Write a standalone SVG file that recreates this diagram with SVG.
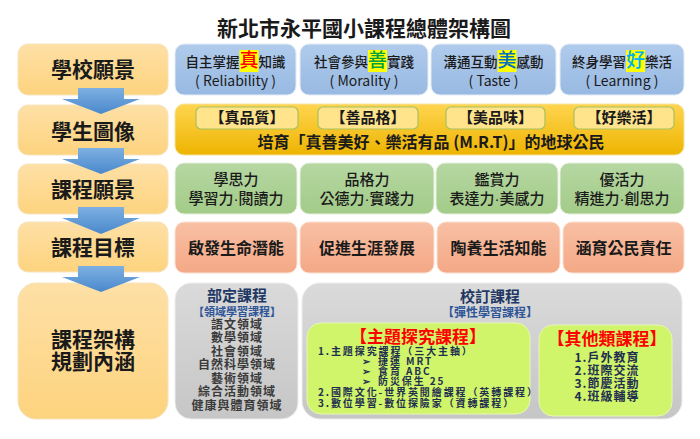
<svg xmlns="http://www.w3.org/2000/svg" width="700" height="439" viewBox="0 0 700 439">
<defs>
<linearGradient id="gLeft" x1="0" y1="0" x2="0" y2="1"><stop offset="0" stop-color="#FEE0A6"/><stop offset="1" stop-color="#FDD37E"/></linearGradient>
<linearGradient id="gBlue" x1="0" y1="0" x2="0" y2="1"><stop offset="0" stop-color="#B0CBEC"/><stop offset="1" stop-color="#98B9E2"/></linearGradient>
<linearGradient id="gGreen" x1="0" y1="0" x2="0" y2="1"><stop offset="0" stop-color="#B6D7A2"/><stop offset="1" stop-color="#A2CB88"/></linearGradient>
<linearGradient id="gSalmon" x1="0" y1="0" x2="0" y2="1"><stop offset="0" stop-color="#F8C0A4"/><stop offset="1" stop-color="#F4A886"/></linearGradient>
<linearGradient id="gGold" x1="0" y1="0" x2="0" y2="1"><stop offset="0" stop-color="#FFD550"/><stop offset="1" stop-color="#EDB400"/></linearGradient>
<linearGradient id="gGrey" x1="0" y1="0" x2="0" y2="1"><stop offset="0" stop-color="#DADADA"/><stop offset="1" stop-color="#C6C6C6"/></linearGradient>
<linearGradient id="gArrow" x1="0" y1="0" x2="0" y2="1"><stop offset="0" stop-color="#7DB0E2"/><stop offset="1" stop-color="#4A88CC"/></linearGradient>
<style>
text{font-family:"Noto Sans CJK TC","Noto Sans CJK SC",sans-serif;fill:#1a1a1a}
.left{fill:url(#gLeft);stroke:#F5E3BF;stroke-width:1}
.blue{fill:url(#gBlue);stroke:#E3ECF7;stroke-width:1}
.green{fill:url(#gGreen);stroke:#E6F0DD;stroke-width:1}
.salmon{fill:url(#gSalmon);stroke:#FBE1D3;stroke-width:1}
.gold{fill:url(#gGold);stroke:#F6E2A0;stroke-width:1}
.grey{fill:url(#gGrey);stroke:#EDEDED;stroke-width:1}
.lime{fill:#D0F46A;stroke:#E6F7B5;stroke-width:1}
.tag{fill:#FFE48C;stroke:#A8C25E;stroke-width:1.2}
.lbl{font-size:21px;font-weight:700;text-anchor:middle}
.b1{font-size:13.5px;font-weight:500}
.b2{font-size:14px;text-anchor:middle}
.hl{fill:#FFFF00}
.tg{font-size:15px;font-weight:700;text-anchor:middle}
.gr{font-size:15px;font-weight:500;text-anchor:middle}
.dot{font-family:"Liberation Sans",sans-serif}
.sa{font-size:16px;font-weight:700;text-anchor:middle}
.hd{font-size:15px;font-weight:700;fill:#1F3864;text-anchor:middle}
.sub{font-size:11px;font-weight:700;fill:#2E5597;text-anchor:middle}
.it{font-size:12px;letter-spacing:1px;font-weight:700;fill:#3A3A3A;text-anchor:middle}
.red{font-size:17px;font-weight:700;fill:#FF0000;text-anchor:middle}
.li{font-size:10px;letter-spacing:1.9px;font-weight:700;fill:#1F2F50}
.li2{font-size:12px;letter-spacing:1px;font-weight:700;fill:#1F2F50;text-anchor:middle}
.arrow{fill:url(#gArrow)}
</style>
</defs>
<rect width="700" height="439" fill="#FFFFFF"/>
<text x="364" y="36" style="font-size:21px;font-weight:700;text-anchor:middle">新北市永平國小課程總體架構圖</text>

<g id="left-vision"><rect class="left" x="18" y="44" width="150" height="51" rx="10"/><text class="lbl" x="93" y="77">學校願景</text></g>
<g id="left-student"><rect class="left" x="18" y="105" width="150" height="50" rx="10"/><text class="lbl" x="93" y="139">學生圖像</text></g>
<g id="left-course-vision"><rect class="left" x="18" y="164" width="150" height="50" rx="10"/><text class="lbl" x="93" y="197">課程願景</text></g>
<g id="left-goal"><rect class="left" x="18" y="222" width="150" height="50" rx="10"/><text class="lbl" x="93" y="255">課程目標</text></g>
<g id="left-structure"><rect class="left" x="18" y="283" width="150" height="136" rx="18"/><text class="lbl" x="93" y="347">課程架構</text><text class="lbl" x="93" y="369">規劃內涵</text></g>

<g id="v1"><rect class="blue" x="175" y="44" width="121" height="51" rx="9"/>
<rect class="hl" x="239.5" y="50" width="19" height="22"/>
<text x="185.5" y="67" class="b1">自主掌握<tspan style="font-size:19px;fill:#FF0000">真</tspan>知識</text>
<text class="b2" x="235.5" y="86">( Reliability )</text></g>
<g id="v2"><rect class="blue" x="300" y="44" width="128" height="51" rx="9"/>
<rect class="hl" x="368" y="50" width="19" height="22"/>
<text x="314" y="67" class="b1">社會參與<tspan style="font-size:19px;fill:#00A040">善</tspan>實踐</text>
<text class="b2" x="364" y="86">( Morality )</text></g>
<g id="v3"><rect class="blue" x="431" y="44" width="125" height="51" rx="9"/>
<rect class="hl" x="497.5" y="50" width="19" height="22"/>
<text x="443.5" y="67" class="b1">溝通互動<tspan style="font-size:19px;fill:#0070C0">美</tspan>感動</text>
<text class="b2" x="493.5" y="86">( Taste )</text></g>
<g id="v4"><rect class="blue" x="560" y="44" width="124" height="51" rx="9"/>
<rect class="hl" x="626" y="50" width="19" height="22"/>
<text x="572" y="67" class="b1">終身學習<tspan style="font-size:19px;fill:#00B0F0">好</tspan>樂活</text>
<text class="b2" x="622" y="86">( Learning )</text></g>

<g id="student-image"><rect class="gold" x="175" y="104" width="509" height="51" rx="9"/>
<rect class="tag" x="196" y="107" width="102" height="22" rx="5"/><text class="tg" x="247" y="123">【真品質】</text>
<rect class="tag" x="318" y="107" width="100" height="22" rx="5"/><text class="tg" x="368" y="123">【善品格】</text>
<rect class="tag" x="446" y="107" width="99" height="22" rx="5"/><text class="tg" x="495.5" y="123">【美品味】</text>
<rect class="tag" x="574" y="107" width="100" height="22" rx="5"/><text class="tg" x="624" y="123">【好樂活】</text>
<text x="431" y="148" style="font-size:16px;font-weight:700;text-anchor:middle">培育「真善美好、樂活有品 (M.R.T)」的地球公民</text></g>

<g id="cv1"><rect class="green" x="175" y="163" width="122" height="51" rx="9"/><text class="gr" x="236" y="185">學思力</text><text class="gr" x="236" y="204">學習力<tspan class="dot">·</tspan>閱讀力</text></g>
<g id="cv2"><rect class="green" x="300" y="163" width="134" height="51" rx="9"/><text class="gr" x="367" y="185">品格力</text><text class="gr" x="367" y="204">公德力<tspan class="dot">·</tspan>實踐力</text></g>
<g id="cv3"><rect class="green" x="436" y="163" width="122" height="51" rx="9"/><text class="gr" x="497" y="185">鑑賞力</text><text class="gr" x="497" y="204">表達力<tspan class="dot">·</tspan>美感力</text></g>
<g id="cv4"><rect class="green" x="560" y="163" width="124" height="51" rx="9"/><text class="gr" x="622" y="185">優活力</text><text class="gr" x="622" y="204">精進力<tspan class="dot">·</tspan>創思力</text></g>

<g id="g1"><rect class="salmon" x="175" y="222" width="122" height="51" rx="9"/><text class="sa" x="236" y="254">啟發生命潛能</text></g>
<g id="g2"><rect class="salmon" x="300" y="222" width="134" height="51" rx="9"/><text class="sa" x="367" y="254">促進生涯發展</text></g>
<g id="g3"><rect class="salmon" x="437" y="222" width="123" height="51" rx="9"/><text class="sa" x="498.5" y="254">陶養生活知能</text></g>
<g id="g4"><rect class="salmon" x="563" y="222" width="121" height="51" rx="9"/><text class="sa" x="623.5" y="254">涵育公民責任</text></g>

<g id="required"><rect class="grey" x="175" y="283" width="123" height="136" rx="16"/>
<text class="hd" x="237" y="301">部定課程</text>
<text class="sub" x="237" y="316">【領域學習課程】</text>
<text class="it" x="237" y="328.5">語文領域</text>
<text class="it" x="237" y="342">數學領域</text>
<text class="it" x="237" y="355.5">社會領域</text>
<text class="it" x="237" y="369">自然科學領域</text>
<text class="it" x="237" y="382.5">藝術領域</text>
<text class="it" x="237" y="396">綜合活動領域</text>
<text class="it" x="237" y="409.5">健康與體育領域</text></g>

<g id="school-based"><rect class="grey" x="302" y="283" width="380" height="136" rx="18"/>
<text class="hd" x="490" y="302">校訂課程</text>
<text class="sub" x="490" y="317" style="font-size:12px">【彈性學習課程】</text></g>

<g id="theme"><rect class="lime" x="307" y="323" width="223" height="91" rx="14"/>
<text class="red" x="418" y="343">【主題探究課程】</text>
<text class="li" x="318" y="355">1.主題探究課程（三大主軸）</text>
<text class="li" x="362" y="365">➢</text><text class="li" x="378" y="365">捷運 MRT</text>
<text class="li" x="362" y="375">➢</text><text class="li" x="378" y="375">食育 ABC</text>
<text class="li" x="362" y="385">➢</text><text class="li" x="378" y="385">防災保生 25</text>
<text class="li" x="318" y="396">2.國際文化-世界英閱繪課程（英轉課程）</text>
<text class="li" x="318" y="406.5">3.數位學習-數位探險家（資轉課程）</text></g>

<g id="other"><rect class="lime" x="539" y="325" width="133" height="91" rx="14"/>
<text class="red" x="607" y="345">【其他類課程】</text>
<text class="li2" x="607" y="362">1.戶外教育</text>
<text class="li2" x="607" y="375">2.班際交流</text>
<text class="li2" x="607" y="388">3.節慶活動</text>
<text class="li2" x="607" y="401">4.班級輔導</text></g>

<g id="connectors">
<path class="arrow" d="M78 88 H124 V99 H140 L101 114 L62 99 H78 Z"/>
<path class="arrow" d="M78 148 H124 V159 H140 L101 174 L62 159 H78 Z"/>
<path class="arrow" d="M78 207 H124 V218 H140 L101 234 L62 218 H78 Z"/>
<path class="arrow" d="M78 266 H124 V277 H140 L101 292 L62 277 H78 Z"/>
</g>
</svg>
